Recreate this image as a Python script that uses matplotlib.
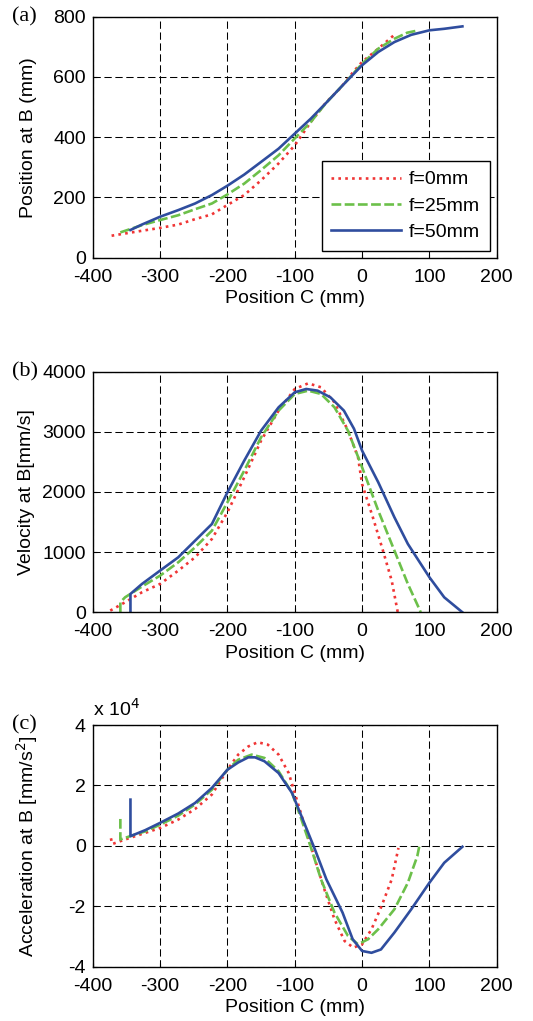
import matplotlib
matplotlib.use('Agg')
import matplotlib.pyplot as plt

plt.rcParams['font.family'] = ['Liberation Sans', 'DejaVu Sans']
plt.rcParams['axes.unicode_minus'] = False

labels = ['f=0mm', 'f=25mm', 'f=50mm']
colors = ['#f03535', '#6cc04a', '#2f4d9e']

# (a) position at B vs position C
pos_x0 = [-372, -342, -300, -273, -248, -223, -200, -175, -150, -124, -100, -76, -53, -33, -13, 0, 24, 50]
pos_y0 = [73, 84, 99, 110, 128, 144, 175, 208, 257, 313, 373, 451, 517, 561, 617, 650, 694, 744]
pos_x25 = [-359, -327, -300, -273, -248, -223, -200, -175, -150, -124, -100, -76, -53, -29, 0, 24, 48, 67, 84]
pos_y25 = [84, 108, 125, 141, 161, 180, 210, 246, 291, 340, 396, 451, 515, 572, 644, 694, 727, 747, 755]
pos_x50 = [-344, -327, -300, -273, -248, -223, -200, -175, -150, -124, -100, -76, -53, -29, 0, 24, 48, 73, 100, 122, 149]
pos_y50 = [92, 110, 136, 158, 180, 208, 239, 276, 318, 362, 412, 462, 515, 572, 639, 683, 716, 740, 755, 760, 768]

# (b) velocity at B
vel_x0 = [-374, -352, -327, -300, -273, -248, -223, -200, -175, -150, -124, -100, -80, -61, -41, -21, -6, 0, 16, 31, 44, 53]
vel_y0 = [28, 166, 332, 471, 693, 914, 1219, 1662, 2244, 2853, 3352, 3712, 3806, 3740, 3490, 3019, 2576, 2133, 1579, 1025, 526, 0]
vel_x25 = [-359, -359, -352, -327, -300, -273, -248, -223, -200, -175, -150, -124, -100, -80, -61, -41, -21, 0, 24, 48, 68, 85, 87]
vel_y25 = [0, 166, 249, 427, 609, 831, 1080, 1357, 1828, 2355, 2909, 3352, 3629, 3684, 3629, 3407, 3019, 2410, 1690, 1025, 471, 55, 0]
vel_x50 = [-344, -344, -327, -300, -273, -248, -223, -200, -175, -150, -124, -100, -83, -66, -47, -27, -12, 0, 24, 48, 68, 100, 122, 149]
vel_y50 = [0, 305, 470, 693, 914, 1191, 1468, 1994, 2521, 3019, 3407, 3657, 3712, 3684, 3573, 3352, 3050, 2687, 2161, 1579, 1136, 582, 249, 0]

# (c) acceleration at B, in units of 1e4 mm/s^2
acc_x0 = [-373, -371, -352, -322, -300, -273, -248, -223, -200, -184, -169, -155, -140, -124, -109, -100, -85,
          -70, -56, -41, -26, -13, 0, 14, 29, 44, 54]
acc_y0 = [0.25, 0.06, 0.21, 0.43, 0.59, 0.87, 1.22, 1.70, 2.52, 3.02, 3.29, 3.43, 3.35, 3.02, 2.41, 1.75, 0.65,
          -0.45, -1.44, -2.43, -3.15, -3.37, -3.26, -2.76, -1.99, -1.11, -0.07]
acc_x25 = [-359, -359, -342, -322, -300, -273, -248, -223, -200, -184, -164, -145, -124, -104, -90, -75, -61,
           -41, -21, -6, 9, 24, 48, 68, 82, 85]
acc_y25 = [0.89, 0.21, 0.34, 0.48, 0.70, 1.00, 1.37, 1.86, 2.52, 2.85, 3.02, 2.91, 2.47, 1.75, 0.87, -0.12, -1.11,
           -2.21, -2.98, -3.26, -3.09, -2.76, -2.10, -1.22, -0.34, -0.01]
acc_x50 = [-344, -344, -322, -300, -273, -248, -223, -200, -184, -169, -159, -145, -124, -104, -90, -70, -53,
           -29, -14, 0, 14, 28, 48, 73, 100, 122, 149]
acc_y50 = [1.53, 0.32, 0.52, 0.76, 1.07, 1.42, 1.92, 2.52, 2.76, 2.93, 2.93, 2.80, 2.41, 1.75, 0.98, -0.12, -1.11,
           -2.21, -3.09, -3.48, -3.54, -3.43, -2.87, -2.10, -1.22, -0.56, -0.03]

styles = [dict(ls=(0, (1, 1.6)), lw=1.9), dict(ls=(0, (3.7, 1.3)), lw=1.9), dict(ls='-', lw=1.9)]

fig = plt.figure(figsize=(5.33, 10.21), dpi=100)
left, width = 0.174, 0.758
ax_a = fig.add_axes([left, 0.7476, width, 0.236])
ax_b = fig.add_axes([left, 0.4003, width, 0.2357])
ax_c = fig.add_axes([left, 0.0532, width, 0.2367])

panels = [
    (ax_a, [(pos_x0, pos_y0), (pos_x25, pos_y25), (pos_x50, pos_y50)]),
    (ax_b, [(vel_x0, vel_y0), (vel_x25, vel_y25), (vel_x50, vel_y50)]),
    (ax_c, [(acc_x0, acc_y0), (acc_x25, acc_y25), (acc_x50, acc_y50)]),
]

for ax, series in panels:
    for (xs, ys), c, st, lab in zip(series, colors, styles, labels):
        ax.plot(xs, ys, color=c, label=lab, **st)
    ax.set_xlim(-400, 200)
    ax.set_xticks([-400, -300, -200, -100, 0, 100, 200])
    ax.grid(True, color='black', ls=(0, (7, 3.5)), lw=0.75)
    ax.tick_params(labelsize=14, direction='in', length=3)
    ax.tick_params(axis='x', pad=8)
    ax.tick_params(axis='y', pad=5)
    ax.set_xlabel('Position C (mm)', fontsize=14, labelpad=3)
    for s in ax.spines.values():
        s.set_linewidth(1.0)

ax_a.set_ylim(0, 800)
ax_a.set_yticks([0, 200, 400, 600, 800])
ax_a.set_ylabel('Position at B (mm)', fontsize=14)
ax_a.yaxis.set_label_coords(-0.138, 0.5)
leg = ax_a.legend(loc='lower right', fontsize=14, fancybox=False, edgecolor='black',
                  framealpha=1, handlelength=3.6, handletextpad=0.4, borderaxespad=0.35,
                  labelspacing=0.45, borderpad=0.5)
leg.get_frame().set_linewidth(1.0)

ax_b.set_ylim(0, 4000)
ax_b.set_yticks([0, 1000, 2000, 3000, 4000])
ax_b.set_ylabel('Velocity at B[mm/s]', fontsize=14)
ax_b.yaxis.set_label_coords(-0.143, 0.5)

ax_c.set_ylim(-4, 4)
ax_c.set_yticks([-4, -2, 0, 2, 4])
ax_c.set_ylabel('Acceleration at B [mm/s$^2$]', fontsize=14)
ax_c.yaxis.set_label_coords(-0.13, 0.5)
ax_c.text(0.0, 1.02, 'x 10$^4$', transform=ax_c.transAxes, fontsize=14, ha='left', va='bottom')

for ax, lab in [(ax_a, '(a)'), (ax_b, '(b)'), (ax_c, '(c)')]:
    ax.text(-0.2, 1.0, lab, transform=ax.transAxes, fontsize=16,
            family=['Liberation Serif', 'DejaVu Serif'], ha='left', va='center')

fig.savefig('out.png', dpi=100)
